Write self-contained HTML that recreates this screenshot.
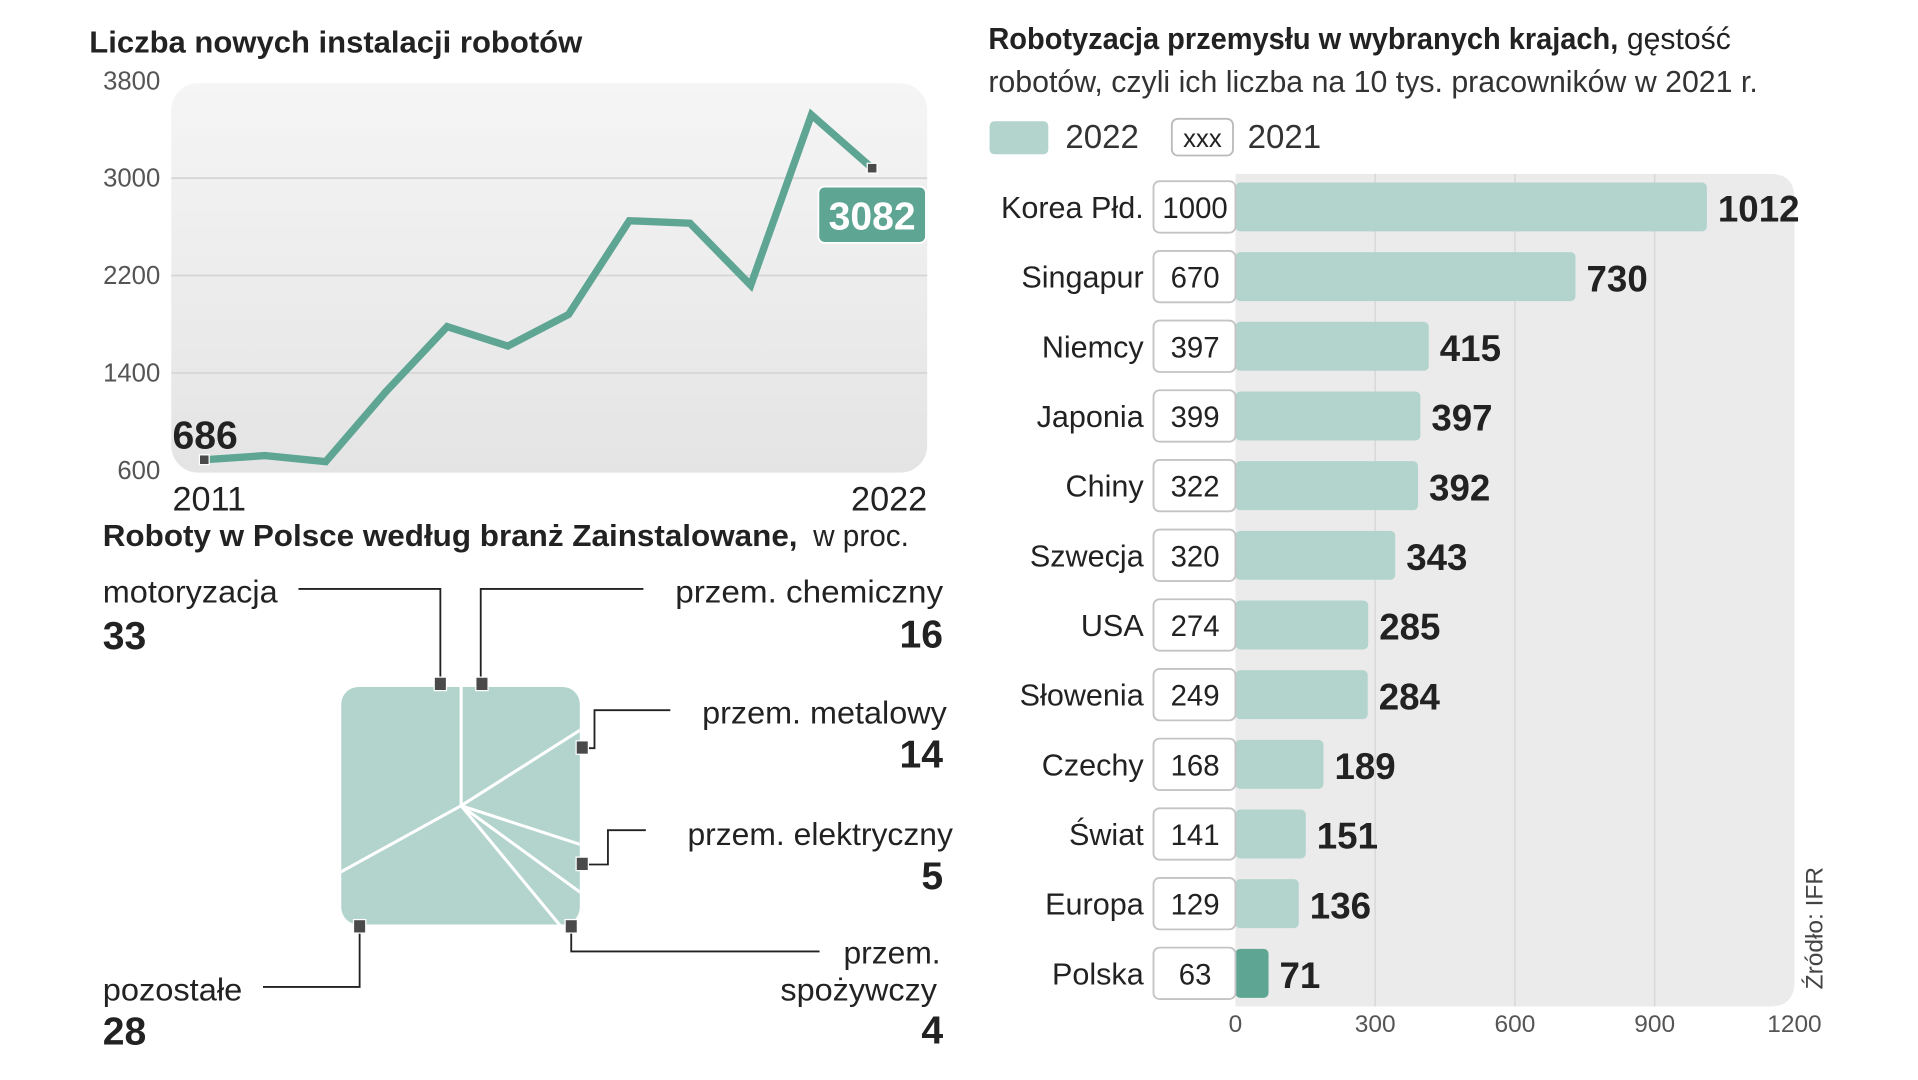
<!DOCTYPE html>
<html><head><meta charset="utf-8"><style>
html,body{margin:0;padding:0;background:#fff;}
svg{display:block;font-family:"Liberation Sans",sans-serif;}
</style></head><body>
<svg id="root" width="1918" height="1080" viewBox="0 0 1568 882" preserveAspectRatio="none">
<defs>
<linearGradient id="lg" x1="0" y1="0" x2="0" y2="1"><stop offset="0" stop-color="#f5f5f5"/><stop offset="1" stop-color="#e4e4e4"/></linearGradient>
<clipPath id="sqclip"><rect x="279" y="561" width="195" height="194" rx="14"/></clipPath>
</defs>

<!-- LINE CHART -->
<g>
<text x="73" y="43" font-size="25" font-weight="bold" fill="#222" textLength="403" lengthAdjust="spacingAndGlyphs">Liczba nowych instalacji robotów</text>
<rect x="140" y="68" width="618" height="318" rx="22" fill="url(#lg)"/>
<g id="lineGrid"></g>
<g id="lineTicks"></g>
<path id="linePath" fill="none" stroke="#5ea593" stroke-width="6" stroke-linejoin="miter"/>
<g id="lineMarks"></g>
<text x="141" y="417" font-size="28" fill="#222">2011</text>
<text x="758" y="417" font-size="28" fill="#222" text-anchor="end">2022</text>
</g>

<!-- PIE -->
<g>
<text x="84" y="446" font-size="25" fill="#222"><tspan font-weight="bold" textLength="568" lengthAdjust="spacingAndGlyphs">Roboty w Polsce według branż Zainstalowane,</tspan><tspan x="658" textLength="85" lengthAdjust="spacingAndGlyphs"> w proc.</tspan></text>
<rect x="279" y="561" width="195" height="194" rx="14" fill="#b3d4cd"/>
<g id="pieLines" clip-path="url(#sqclip)"></g>
<g fill="none" stroke="#222" stroke-width="1.5">
<polyline points="244,481 360,481 360,555"/>
<polyline points="526,481 393,481 393,555"/>
<polyline points="476,611 486,611 486,580 548,580"/>
<polyline points="476,706 497,706 497,678 528,678"/>
<polyline points="467,757 467,777 670,777"/>
<polyline points="294,757 294,806 215,806"/>
</g>
<g fill="#4a4a4a" stroke="#fff" stroke-width="1">
<rect x="355" y="553" width="10" height="11"/><rect x="389" y="553" width="10" height="11"/>
<rect x="471" y="605" width="10" height="11"/><rect x="471" y="700" width="10" height="11"/>
<rect x="289" y="751" width="10" height="11"/><rect x="462" y="751" width="10" height="11"/>
</g>
<g fill="#222" font-size="26">
<text x="84" y="492" textLength="143" lengthAdjust="spacingAndGlyphs">motoryzacja</text>
<text x="84" y="530" font-size="32" font-weight="bold">33</text>
<text x="771" y="492" text-anchor="end" textLength="219" lengthAdjust="spacingAndGlyphs">przem.  chemiczny</text>
<text x="771" y="529" text-anchor="end" font-size="32" font-weight="bold">16</text>
<text x="774" y="591" text-anchor="end" textLength="200" lengthAdjust="spacingAndGlyphs">przem. metalowy</text>
<text x="771" y="627" text-anchor="end" font-size="32" font-weight="bold">14</text>
<text x="779" y="690" text-anchor="end" textLength="217" lengthAdjust="spacingAndGlyphs">przem. elektryczny</text>
<text x="771" y="726" text-anchor="end" font-size="32" font-weight="bold">5</text>
<text x="769" y="787" text-anchor="end">przem.</text>
<text x="766" y="817" text-anchor="end" textLength="128" lengthAdjust="spacingAndGlyphs">spożywczy</text>
<text x="771" y="852" text-anchor="end" font-size="32" font-weight="bold">4</text>
<text x="84" y="817" textLength="114" lengthAdjust="spacingAndGlyphs">pozostałe</text>
<text x="84" y="853" font-size="32" font-weight="bold">28</text>
</g>
</g>

<!-- BAR CHART -->
<g>
<text x="808" y="40" font-size="25" fill="#222"><tspan font-weight="bold" textLength="515" lengthAdjust="spacingAndGlyphs">Robotyzacja przemysłu w wybranych krajach,</tspan><tspan x="1330" textLength="85" lengthAdjust="spacingAndGlyphs">gęstość</tspan></text>
<text x="808" y="75" font-size="25" fill="#333" textLength="629" lengthAdjust="spacingAndGlyphs">robotów, czyli ich liczba na 10 tys. pracowników w 2021 r.</text>
<rect x="809" y="99" width="48" height="27" rx="4" fill="#b3d4cd"/>
<text x="871" y="121" font-size="27" fill="#333">2022</text>
<rect x="958" y="97" width="50" height="30" rx="5" fill="#fff" stroke="#bbb" stroke-width="1.5"/>
<text x="983" y="120" font-size="21" fill="#222" text-anchor="middle">xxx</text>
<text x="1020" y="121" font-size="27" fill="#333">2021</text>
<path d="M1010 142 H1447 Q1467 142 1467 162 V802 Q1467 822 1447 822 H1010 Z" fill="#ebebeb"/>
<g id="barGrid"></g>
<g id="bars"></g>
<text transform="translate(1490,808) rotate(-90)" font-size="20" fill="#444">Źródło: IFR</text>
</g>
</svg>
<script>
// line chart data
const years = [2011,2012,2013,2014,2015,2016,2017,2018,2019,2020,2021,2022];
const installs = [686,720,670,1250,1780,1620,1880,2650,2630,2120,3520,3082];
const yTicks = [600,1400,2200,3000,3800];
// bar chart data
const countries = ["Korea Płd.","Singapur","Niemcy","Japonia","Chiny","Szwecja","USA","Słowenia","Czechy","Świat","Europa","Polska"];
const density2022 = [1012,730,415,397,392,343,285,284,189,151,136,71];
const density2021 = [1000,670,397,399,322,320,274,249,168,141,129,63];
const xTicks = [0,300,600,900,1200];
// pie data
const sectors = ["motoryzacja","przem. chemiczny","przem. metalowy","przem. elektryczny","przem. spożywczy","pozostałe"];
const shares = [33,16,14,5,4,28];

const NS="http://www.w3.org/2000/svg";
function mk(tag,attrs,parent,txt){const e=document.createElementNS(NS,tag);for(const k in attrs)e.setAttribute(k,attrs[k]);if(txt!==undefined)e.textContent=txt;parent.appendChild(e);return e;}

// line
const lx=i=>167+i*(546/(years.length-1));
const ly=v=>384-(v-600)*318/3200;
const lg=document.getElementById('lineGrid'), lt=document.getElementById('lineTicks');
yTicks.forEach(t=>{
  if(t>600&&t<3800){const g=mk('line',{x1:140,x2:758,y1:ly(t),y2:ly(t),stroke:'#d6d6d6','stroke-width':1.5},lg);
  
  }
  const tx=mk('text',{x:131,y:ly(t)+7,'font-size':21,fill:'#555','text-anchor':'end'},lt,String(t));
  
  
});
document.getElementById('linePath').setAttribute('d',installs.map((v,i)=>(i?'L':'M')+lx(i)+' '+ly(v)).join(' '));
const lm=document.getElementById('lineMarks');
[0,installs.length-1].forEach(i=>{
  const r=mk('rect',{x:lx(i)-4,y:ly(installs[i])-4,width:8,height:8,fill:'#4a4a4a',stroke:'#fff','stroke-width':1},lm);
  
  
});
const first=mk('text',{x:141,y:ly(installs[0])-9,'font-size':32,'font-weight':'bold',fill:'#222'},lm,String(installs[0]));


const li=installs.length-1;
const bx=mk('rect',{x:669,y:ly(installs[li])+15,width:88,height:46,rx:5,fill:'#5ea593',stroke:'#fff','stroke-width':1.5},lm);


const last=mk('text',{x:713,y:ly(installs[li])+50,'font-size':32,'font-weight':'bold',fill:'#fff','text-anchor':'middle'},lm,String(installs[li]));



// pie lines
const pl=document.getElementById('pieLines');
const cx=377, cy=658;
// order clockwise from top: chem, metal, elektr, spoż, pozostałe, motoryzacja
const order=[1,2,3,4,5,0];
let acc=0;
const angles=[0];
order.forEach(k=>{acc+=shares[k];angles.push(acc);});
angles.slice(0,-1).forEach(a=>{
  const th=a/100*2*Math.PI;
  const ln=mk('line',{x1:cx,y1:cy,x2:cx+300*Math.sin(th),y2:cy-300*Math.cos(th),stroke:'#fff','stroke-width':2.5},pl);
  
  
});

// bars
const bxs=v=>1010+v*457/1200;
const rowY=i=>169+i*56.9;
const bg=document.getElementById('barGrid'), bs=document.getElementById('bars');
xTicks.forEach(t=>{
  if(t>0&&t<1200){const g=mk('line',{x1:bxs(t),x2:bxs(t),y1:142,y2:822,stroke:'#d8d8d8','stroke-width':1.2},bg);
  
  }
  const tx=mk('text',{x:bxs(t),y:843,'font-size':20,fill:'#555','text-anchor':'middle'},bg,String(t));
  
  
});
countries.forEach((c,i)=>{
  const y=rowY(i);
  const lab=mk('text',{x:935,y:y+9,'font-size':25,fill:'#222','text-anchor':'end'},bs,c);
  
  
  const b=mk('rect',{x:1010,y:y-20,width:Math.max(0,bxs(density2022[i])-1010),height:40,rx:4,fill:i===countries.length-1?'#5ea593':'#b3d4cd'},bs);
  
  
  const box=mk('rect',{x:943,y:y-21,width:67,height:42,rx:5,fill:'#fff',stroke:'#c4c4c4','stroke-width':1.5},bs);
  
  
  const t21=mk('text',{x:977,y:y+9,'font-size':24,fill:'#222','text-anchor':'middle'},bs,String(density2021[i]));
  
  
  const t22=mk('text',{x:bxs(density2022[i])+9,y:y+12,'font-size':30,'font-weight':'bold',fill:'#222'},bs,String(density2022[i]));
  
  
});
</script>
</body></html>
